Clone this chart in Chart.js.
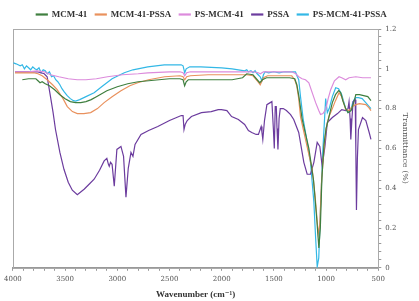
<!DOCTYPE html>
<html>
<head>
<meta charset="utf-8">
<script src="https://cdn.jsdelivr.net/npm/chart.js@4.4.1/dist/chart.umd.min.js"></script>
<style>
html,body{margin:0;padding:0;background:#fff;}
#wrap{width:419px;height:301px;}
</style>
</head>
<body>
<div id="wrap"><canvas id="c" width="419" height="301"></canvas></div>
<script>
// ---- data (wavenumber in cm-1, transmittance) ----
const seriesNames = ["MCM-41", "MCM-41-PSSA", "PS-MCM-41", "PSSA", "PS-MCM-41-PSSA"];
const xTickLabels = [4000, 3500, 3000, 2500, 2000, 1500, 1000, 500];
const yTickLabels = [0, 0.2, 0.4, 0.6, 0.8, 1, 1.2];

const mcm41Wn = [3910,3850,3780,3760,3740,3720,3690,3650,3600,3550,3500,3450,3400,3350,3300,3250,3200,3100,3000,2900,2800,2700,2600,2500,2400,2370,2355,2340,2320,2200,2100,2000,1900,1850,1800,1760,1700,1660,1635,1610,1570,1450,1350,1300,1280,1260,1230,1200,1165,1120,1090,1069,1055,1040,1020,1000,972,940,910,880,860,840,812,790,760,730,715,680,640,600,570];
const mcm41T = [0.945,0.95,0.95,0.94,0.93,0.935,0.925,0.915,0.895,0.87,0.85,0.835,0.83,0.83,0.835,0.845,0.86,0.89,0.91,0.925,0.935,0.94,0.945,0.95,0.95,0.945,0.915,0.935,0.945,0.945,0.945,0.945,0.945,0.95,0.955,0.975,0.97,0.945,0.93,0.945,0.955,0.955,0.955,0.95,0.92,0.86,0.75,0.68,0.6,0.44,0.25,0.1,0.2,0.45,0.62,0.7,0.76,0.83,0.87,0.89,0.88,0.84,0.8,0.78,0.79,0.84,0.87,0.87,0.865,0.86,0.84];

const mcmPssaWn = [3980,3900,3800,3760,3720,3672,3620,3576,3520,3479,3430,3383,3320,3255,3190,3126,3050,2965,2880,2804,2700,2547,2400,2370,2354,2335,2300,2129,2000,1900,1800,1760,1700,1660,1631,1600,1560,1450,1329,1300,1281,1262,1245,1220,1197,1165,1133,1105,1075,1060,1045,1020,1000,972,940,910,876,850,812,780,750,715,680,619,590,570];
const mcmPssaT = [0.98,0.98,0.98,0.975,0.965,0.945,0.92,0.895,0.85,0.81,0.785,0.775,0.775,0.78,0.8,0.83,0.86,0.89,0.915,0.93,0.945,0.96,0.965,0.96,0.945,0.96,0.965,0.97,0.97,0.97,0.97,0.97,0.965,0.94,0.92,0.955,0.965,0.965,0.965,0.945,0.915,0.85,0.76,0.7,0.645,0.57,0.495,0.36,0.17,0.22,0.42,0.6,0.7,0.76,0.8,0.84,0.88,0.86,0.795,0.79,0.81,0.82,0.825,0.82,0.805,0.79];

const psMcmWn = [3980,3850,3769,3700,3640,3560,3470,3383,3300,3200,3094,2950,2800,2708,2500,2400,2370,2354,2335,2300,2100,1900,1800,1700,1650,1630,1600,1500,1400,1329,1290,1262,1230,1197,1165,1133,1100,1070,1053,1030,1004,980,956,920,876,850,812,780,715,650,570];
const psMcmT = [0.985,0.985,0.99,0.985,0.97,0.96,0.95,0.945,0.945,0.95,0.96,0.97,0.975,0.98,0.985,0.985,0.98,0.965,0.98,0.985,0.985,0.985,0.985,0.985,0.98,0.975,0.985,0.985,0.985,0.985,0.975,0.96,0.95,0.945,0.93,0.88,0.83,0.79,0.77,0.775,0.795,0.85,0.895,0.94,0.96,0.955,0.945,0.955,0.96,0.955,0.955];

const pssaWn = [3980,3850,3769,3700,3672,3640,3615,3592,3550,3511,3470,3431,3383,3318,3270,3222,3170,3126,3100,3085,3077,3065,3050,3029,3004,2965,2940,2917,2895,2869,2850,2830,2773,2700,2612,2500,2387,2370,2361,2350,2330,2290,2194,2100,2033,2002,1950,1905,1840,1780,1744,1712,1670,1648,1622,1614,1606,1590,1567,1535,1519,1505,1496,1487,1477,1470,1461,1450,1439,1410,1380,1340,1310,1262,1213,1181,1149,1117,1085,1060,1037,1011,988,940,890,850,812,790,780,770,763,752,741,721,715,709,700,690,651,619,587,570];
const pssaT = [0.985,0.985,0.985,0.975,0.96,0.86,0.78,0.695,0.58,0.495,0.43,0.39,0.367,0.395,0.42,0.445,0.49,0.537,0.55,0.52,0.51,0.53,0.52,0.41,0.595,0.61,0.56,0.355,0.5,0.58,0.56,0.62,0.67,0.69,0.71,0.74,0.765,0.765,0.695,0.72,0.74,0.76,0.78,0.785,0.795,0.795,0.79,0.76,0.745,0.72,0.69,0.68,0.67,0.67,0.71,0.68,0.645,0.74,0.82,0.83,0.835,0.7,0.6,0.81,0.81,0.7,0.595,0.75,0.8,0.8,0.79,0.77,0.745,0.68,0.53,0.47,0.47,0.53,0.63,0.61,0.51,0.61,0.73,0.755,0.775,0.795,0.79,0.8,0.835,0.75,0.645,0.75,0.835,0.845,0.6,0.29,0.55,0.695,0.755,0.74,0.68,0.645];

const psMcmPssaWn = [3995,3970,3950,3930,3910,3890,3870,3850,3830,3810,3790,3770,3750,3730,3710,3690,3670,3650,3630,3610,3590,3570,3550,3530,3510,3480,3450,3420,3399,3360,3300,3222,3150,3050,2933,2850,2708,2550,2388,2370,2354,2340,2306,2200,2000,1900,1840,1780,1760,1744,1720,1700,1680,1660,1631,1615,1600,1583,1551,1500,1450,1400,1358,1293,1275,1262,1245,1220,1197,1149,1117,1100,1085,1070,1053,1030,1004,988,970,940,908,880,850,812,790,763,745,731,715,690,654,620,587,570];
const psMcmPssaT = [1.03,1.025,1.02,1.015,1.02,1.0,1.015,1.005,0.995,1.01,1.0,0.995,1.005,0.98,0.995,0.99,0.975,0.985,0.96,0.965,0.945,0.935,0.92,0.9,0.885,0.865,0.85,0.84,0.838,0.845,0.86,0.88,0.91,0.95,0.98,0.995,1.01,1.02,1.02,1.015,0.98,1.0,1.01,1.01,1.005,1.0,0.995,0.99,0.995,0.985,0.99,0.98,0.99,0.975,0.96,0.94,0.97,0.985,0.98,0.985,0.98,0.985,0.985,0.985,0.96,0.945,0.86,0.75,0.68,0.53,0.33,0.15,0.005,0.05,0.3,0.6,0.85,0.78,0.8,0.86,0.905,0.9,0.87,0.8,0.78,0.795,0.83,0.845,0.855,0.855,0.85,0.83,0.81,0.8];

const seriesColors = ["#3f7f3f", "#e9915d", "#dc8bdc", "#6c3c9e", "#33b8e6"];
const seriesWn = [mcm41Wn, mcmPssaWn, psMcmWn, pssaWn, psMcmPssaWn];
const seriesT = [mcm41T, mcmPssaT, psMcmT, pssaT, psMcmPssaT];

function pts(wn, t) {
  const n = Math.min(wn.length, t.length);
  const out = [];
  for (let i = 0; i < n; i++) out.push({x: wn[i], y: t[i]});
  return out;
}

const datasets = seriesNames.map((name, i) => ({
  label: name,
  data: pts(seriesWn[i], seriesT[i]),
  borderColor: seriesColors[i],
  backgroundColor: seriesColors[i],
  borderWidth: 1.2,
  pointRadius: 0,
  tension: 0,
  fill: false
}));

const framePlugin = {
  id: 'frame',
  beforeDatasetsDraw(chart) {
    const a = chart.chartArea, ctx = chart.ctx;
    ctx.save();
    ctx.strokeStyle = '#aaaaaa';
    ctx.lineWidth = 1;
    ctx.strokeRect(Math.round(a.left) + 0.5, Math.round(a.top) + 0.5, Math.round(a.right - a.left), Math.round(a.bottom - a.top));
    ctx.restore();
  }
};

const serif = "'DejaVu Serif', 'Liberation Serif', serif";
const serif2 = "'Liberation Serif', 'DejaVu Serif', serif";

new Chart(document.getElementById('c'), {
  type: 'line',
  data: { datasets },
  plugins: [framePlugin],
  options: {
    responsive: false,
    animation: false,
    layout: { padding: { left: 11, right: 7, top: 2, bottom: 1 } },
    plugins: {
      legend: {
        position: 'top',
        align: 'center',
        labels: {
          boxWidth: 11,
          boxHeight: 1,
          padding: 8,
          color: '#333',
          font: { family: serif2, size: 9, weight: 'bold' }
        }
      },
      tooltip: { enabled: false }
    },
    scales: {
      x: {
        type: 'linear',
        reverse: true,
        min: 500,
        max: 4000,
        grid: { drawOnChartArea: false, tickLength: 3, color: '#999' },
        border: { color: '#999' },
        ticks: {
          stepSize: 100,
          autoSkip: false,
          maxRotation: 0,
          padding: 4,
          color: '#555',
          font: { family: serif, size: 7 },
          callback: (v) => xTickLabels.includes(v) ? String(v) : ''
        },
        title: {
          display: true,
          text: 'Wavenumber (cm\u207B\u00B9)',
          color: '#333',
          font: { family: serif2, size: 9, weight: 'bold' },
          padding: { top: 2, bottom: 0 }
        }
      },
      y: {
        position: 'right',
        min: 0,
        max: 1.2,
        grid: { drawOnChartArea: false, tickLength: 3, color: '#999' },
        border: { color: '#999' },
        ticks: {
          stepSize: 0.04,
          autoSkip: false,
          padding: 4,
          color: '#555',
          font: { family: serif, size: 7 },
          callback: (v) => {
            const m = yTickLabels.find(t => Math.abs(t - v) < 1e-6);
            return m === undefined ? '' : String(m);
          }
        },
        title: {
          display: true,
          text: 'Tranmittance (%)',
          color: '#555',
          font: { family: serif, size: 8 },
          padding: { top: 2, bottom: 0 }
        }
      }
    }
  }
});
</script>
</body>
</html>
